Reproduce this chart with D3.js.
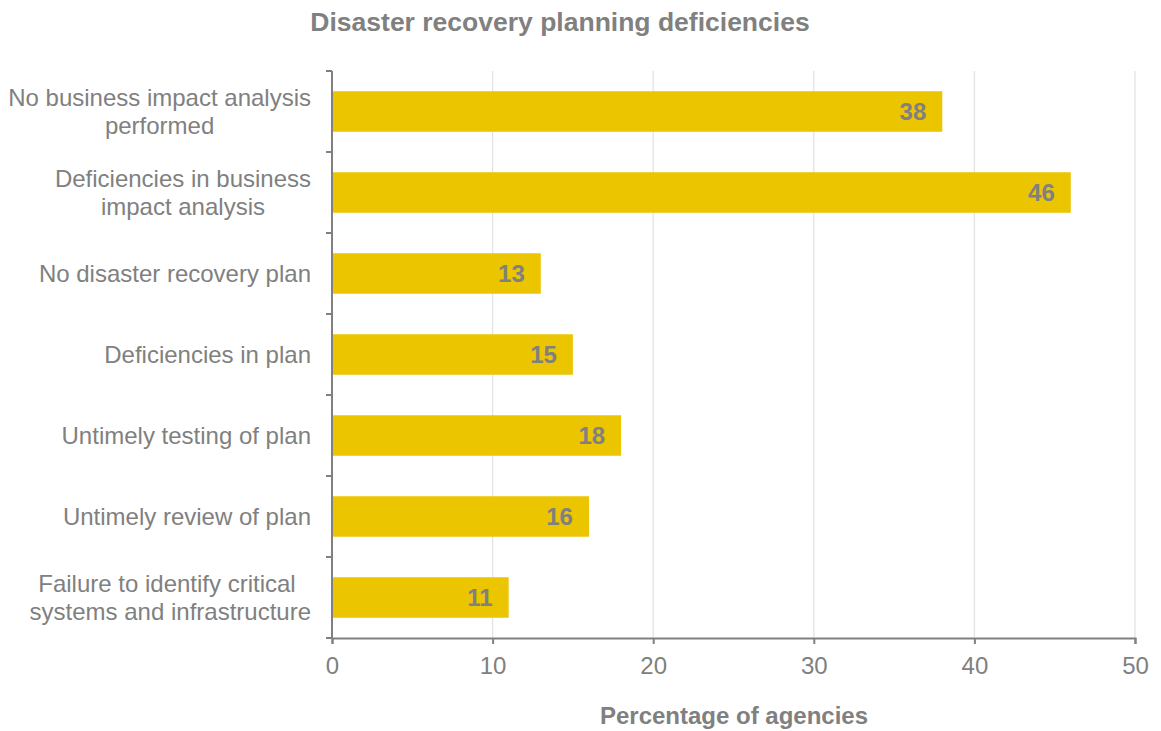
<!DOCTYPE html>
<html>
<head>
<meta charset="utf-8">
<script src="https://cdn.jsdelivr.net/npm/d3@7"></script>
<style>
  body { margin: 0; background: #fff; }
  text { font-family: "Liberation Sans", Arial, sans-serif; }
</style>
</head>
<body>
<div id="chart"></div>
<script>
var w = 1161
var h = 731

// data
var categories = [
  ["No business impact analysis", "performed"],
  ["Deficiencies in business", "impact analysis"],
  ["No disaster recovery plan"],
  ["Deficiencies in plan"],
  ["Untimely testing of plan"],
  ["Untimely review of plan"],
  ["Failure to identify critical ", "systems and infrastructure"]
]
var values = [38, 46, 13, 15, 18, 16, 11]
var xTicks = [0, 10, 20, 30, 40, 50]

var grey = "#808080"
var barColor = "#ebc500"

// plot area ("top" is taken on window, so other names)
var plotL = 332, plotR = 1135, plotT = 71, plotB = 638

var svg = d3.select("#chart").append("svg").attr("width", w).attr("height", h)

var xScale = d3.scaleLinear().domain([0, 50]).range([plotL, plotR])
var yScale = d3.scaleBand().domain(d3.range(values.length)).range([plotT, plotB]).paddingInner(0.5).paddingOuter(0.25)
var bandAll = d3.scaleBand().domain(d3.range(values.length)).range([plotT, plotB])

// gridlines
svg.selectAll(".grid")
  .data(xTicks.slice(1))
  .enter()
  .append("line")
  .attr("x1", function(d){ return xScale(d) })
  .attr("x2", function(d){ return xScale(d) })
  .attr("y1", plotT)
  .attr("y2", plotB)
  .attr("stroke", "#e3e3e3")
  .attr("stroke-width", 1.3)

// bars
svg.selectAll(".bar")
  .data(values)
  .enter()
  .append("rect")
  .attr("x", xScale(0))
  .attr("y", function(d, i){ return yScale(i) })
  .attr("width", function(d){ return xScale(d) - xScale(0) })
  .attr("height", yScale.bandwidth())
  .attr("fill", barColor)

// value labels
svg.selectAll(".val")
  .data(values)
  .enter()
  .append("text")
  .attr("x", function(d){ return xScale(d) - 16 })
  .attr("y", function(d, i){ return yScale(i) + yScale.bandwidth() / 2 })
  .attr("dy", "0.36em")
  .attr("text-anchor", "end")
  .style("font-size", "24px")
  .style("font-weight", "bold")
  .style("fill", grey)
  .text(function(d){ return d })

// x axis
var xAxis = svg.append("g")
  .attr("transform", "translate(0," + plotB + ")")
  .call(d3.axisBottom(xScale).tickValues(xTicks).tickSizeOuter(0).tickSize(6).tickPadding(13))
xAxis.select(".domain").attr("stroke", grey).attr("stroke-width", 2)
xAxis.selectAll(".tick line").attr("stroke", grey).attr("stroke-width", 2)
xAxis.selectAll(".tick text")
  .style("font-size", "24px")
  .style("fill", grey)
  .style("font-family", "Liberation Sans, Arial, sans-serif")

// y axis (ticks at band boundaries)
svg.append("line")
  .attr("x1", plotL).attr("x2", plotL)
  .attr("y1", plotT).attr("y2", plotB)
  .attr("stroke", grey).attr("stroke-width", 2)
svg.selectAll(".ytick")
  .data(d3.range(values.length + 1))
  .enter()
  .append("line")
  .attr("x1", plotL - 6).attr("x2", plotL)
  .attr("y1", function(i){ return i < values.length ? bandAll(i) : plotB })
  .attr("y2", function(i){ return i < values.length ? bandAll(i) : plotB })
  .attr("stroke", grey).attr("stroke-width", 2)

// category labels: centered block, right edge at 311
var labels = svg.selectAll(".cat")
  .data(categories)
  .enter()
  .append("text")
  .attr("text-anchor", "middle")
  .style("font-size", "24px")
  .style("fill", grey)

labels.each(function(lines, i){
  var t = d3.select(this)
  lines.forEach(function(l){
    t.append("tspan").text(l)
  })
  var maxW = 0
  t.selectAll("tspan").each(function(){ maxW = Math.max(maxW, this.getComputedTextLength()) })
  var cx = 311 - maxW / 2
  var cy = bandAll(i) + bandAll.bandwidth() / 2
  var lh = 27.5
  t.selectAll("tspan")
    .attr("x", cx)
    .attr("y", function(d, j){ return cy + (j - (lines.length - 1) / 2) * lh })
    .attr("dy", "0.36em")
})

// titles
svg.append("text")
  .attr("x", 560).attr("y", 31)
  .attr("text-anchor", "middle")
  .style("font-size", "26.5px")
  .style("font-weight", "bold")
  .style("fill", grey)
  .text("Disaster recovery planning deficiencies")

svg.append("text")
  .attr("x", 734).attr("y", 724)
  .attr("text-anchor", "middle")
  .style("font-size", "24px")
  .style("font-weight", "bold")
  .style("fill", grey)
  .text("Percentage of agencies")
</script>
</body>
</html>
